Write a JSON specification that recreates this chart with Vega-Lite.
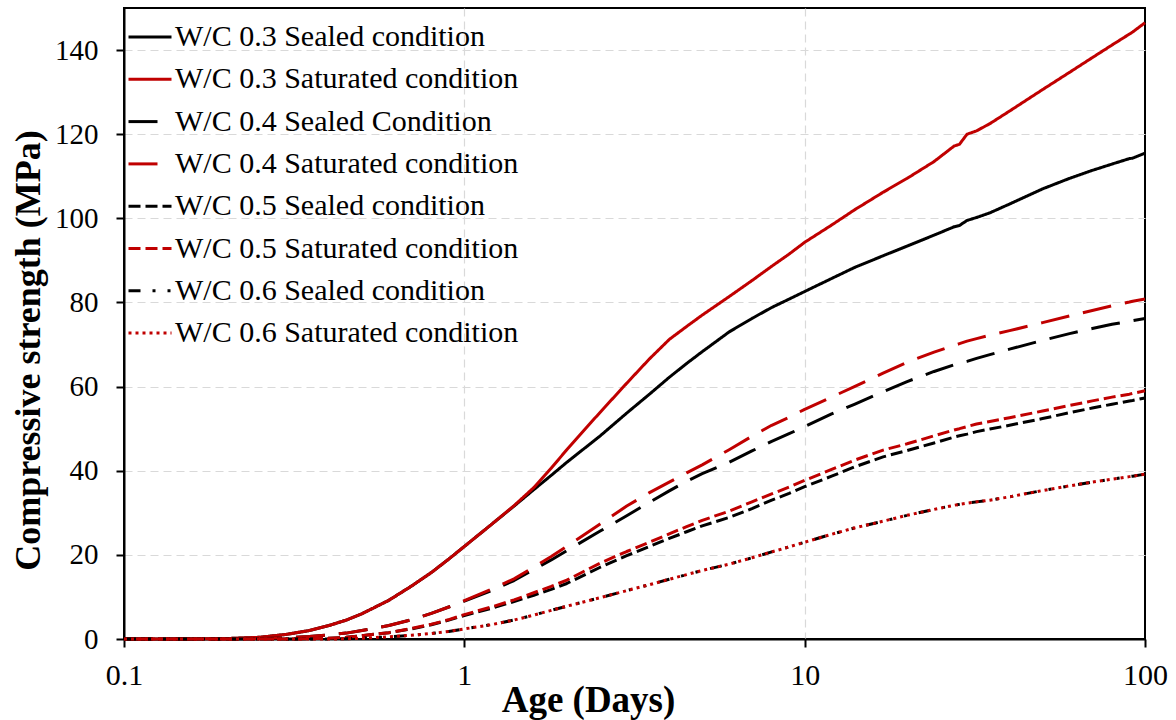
{
  "$schema": "https://vega.github.io/schema/vega-lite/v6.json",
  "width": 1021,
  "height": 631,
  "autosize": {"type": "none"},
  "padding": {"left": 124, "top": 8, "right": 31, "bottom": 81},
  "background": "white",
  "config": {
    "font": "Liberation Serif",
    "view": {"stroke": "black", "strokeWidth": 2},
    "axis": {
      "domainColor": "black",
      "domainWidth": 2,
      "tickColor": "black",
      "tickWidth": 2,
      "tickSize": 8,
      "labelFont": "Liberation Serif",
      "labelColor": "black",
      "titleFont": "Liberation Serif",
      "titleFontWeight": "bold",
      "titleFontSize": 36,
      "titleColor": "black",
      "gridColor": "#D9D9D9",
      "gridWidth": 1.2,
      "gridDash": [8, 5]
    },
    "legend": {
      "labelFont": "Liberation Serif"
    }
  },
  "data": {
    "values": [
      {"series": "W/C 0.3 Sealed condition", "age": 0.1, "strength": 0},
      {"series": "W/C 0.3 Sealed condition", "age": 0.15, "strength": 0},
      {"series": "W/C 0.3 Sealed condition", "age": 0.2, "strength": 0.1},
      {"series": "W/C 0.3 Sealed condition", "age": 0.25, "strength": 0.4},
      {"series": "W/C 0.3 Sealed condition", "age": 0.3, "strength": 1.1},
      {"series": "W/C 0.3 Sealed condition", "age": 0.35, "strength": 2.0},
      {"series": "W/C 0.3 Sealed condition", "age": 0.4, "strength": 3.2},
      {"series": "W/C 0.3 Sealed condition", "age": 0.45, "strength": 4.5},
      {"series": "W/C 0.3 Sealed condition", "age": 0.5, "strength": 6.0},
      {"series": "W/C 0.3 Sealed condition", "age": 0.6, "strength": 9.2},
      {"series": "W/C 0.3 Sealed condition", "age": 0.7, "strength": 12.6},
      {"series": "W/C 0.3 Sealed condition", "age": 0.8, "strength": 15.8},
      {"series": "W/C 0.3 Sealed condition", "age": 0.9, "strength": 19.0},
      {"series": "W/C 0.3 Sealed condition", "age": 1, "strength": 22.0},
      {"series": "W/C 0.3 Sealed condition", "age": 1.2, "strength": 27.2},
      {"series": "W/C 0.3 Sealed condition", "age": 1.4, "strength": 31.6},
      {"series": "W/C 0.3 Sealed condition", "age": 1.6, "strength": 35.5},
      {"series": "W/C 0.3 Sealed condition", "age": 1.8, "strength": 38.9},
      {"series": "W/C 0.3 Sealed condition", "age": 2, "strength": 42.0},
      {"series": "W/C 0.3 Sealed condition", "age": 2.5, "strength": 48.2},
      {"series": "W/C 0.3 Sealed condition", "age": 3, "strength": 53.7},
      {"series": "W/C 0.3 Sealed condition", "age": 3.5, "strength": 58.2},
      {"series": "W/C 0.3 Sealed condition", "age": 4, "strength": 62.2},
      {"series": "W/C 0.3 Sealed condition", "age": 4.5, "strength": 65.5},
      {"series": "W/C 0.3 Sealed condition", "age": 5, "strength": 68.3},
      {"series": "W/C 0.3 Sealed condition", "age": 6, "strength": 73.0},
      {"series": "W/C 0.3 Sealed condition", "age": 7, "strength": 76.2},
      {"series": "W/C 0.3 Sealed condition", "age": 8, "strength": 78.8},
      {"series": "W/C 0.3 Sealed condition", "age": 9, "strength": 80.8},
      {"series": "W/C 0.3 Sealed condition", "age": 10, "strength": 82.6},
      {"series": "W/C 0.3 Sealed condition", "age": 12, "strength": 85.7},
      {"series": "W/C 0.3 Sealed condition", "age": 14, "strength": 88.3},
      {"series": "W/C 0.3 Sealed condition", "age": 17, "strength": 91.1},
      {"series": "W/C 0.3 Sealed condition", "age": 20, "strength": 93.4},
      {"series": "W/C 0.3 Sealed condition", "age": 24, "strength": 96.0},
      {"series": "W/C 0.3 Sealed condition", "age": 27.5, "strength": 98.0},
      {"series": "W/C 0.3 Sealed condition", "age": 28.5, "strength": 98.3},
      {"series": "W/C 0.3 Sealed condition", "age": 30, "strength": 99.5},
      {"series": "W/C 0.3 Sealed condition", "age": 32, "strength": 100.2},
      {"series": "W/C 0.3 Sealed condition", "age": 35, "strength": 101.3},
      {"series": "W/C 0.3 Sealed condition", "age": 40, "strength": 103.4},
      {"series": "W/C 0.3 Sealed condition", "age": 50, "strength": 107.0},
      {"series": "W/C 0.3 Sealed condition", "age": 60, "strength": 109.5},
      {"series": "W/C 0.3 Sealed condition", "age": 70, "strength": 111.4},
      {"series": "W/C 0.3 Sealed condition", "age": 80, "strength": 112.9},
      {"series": "W/C 0.3 Sealed condition", "age": 90, "strength": 114.2},
      {"series": "W/C 0.3 Sealed condition", "age": 92, "strength": 114.3},
      {"series": "W/C 0.3 Sealed condition", "age": 100, "strength": 115.5},

      {"series": "W/C 0.3 Saturated condition", "age": 0.1, "strength": 0},
      {"series": "W/C 0.3 Saturated condition", "age": 0.15, "strength": 0},
      {"series": "W/C 0.3 Saturated condition", "age": 0.2, "strength": 0.1},
      {"series": "W/C 0.3 Saturated condition", "age": 0.25, "strength": 0.4},
      {"series": "W/C 0.3 Saturated condition", "age": 0.3, "strength": 1.1},
      {"series": "W/C 0.3 Saturated condition", "age": 0.35, "strength": 2.0},
      {"series": "W/C 0.3 Saturated condition", "age": 0.4, "strength": 3.2},
      {"series": "W/C 0.3 Saturated condition", "age": 0.45, "strength": 4.5},
      {"series": "W/C 0.3 Saturated condition", "age": 0.5, "strength": 6.0},
      {"series": "W/C 0.3 Saturated condition", "age": 0.6, "strength": 9.2},
      {"series": "W/C 0.3 Saturated condition", "age": 0.7, "strength": 12.6},
      {"series": "W/C 0.3 Saturated condition", "age": 0.8, "strength": 15.8},
      {"series": "W/C 0.3 Saturated condition", "age": 0.9, "strength": 19.0},
      {"series": "W/C 0.3 Saturated condition", "age": 1, "strength": 22.0},
      {"series": "W/C 0.3 Saturated condition", "age": 1.2, "strength": 27.2},
      {"series": "W/C 0.3 Saturated condition", "age": 1.4, "strength": 31.7},
      {"series": "W/C 0.3 Saturated condition", "age": 1.6, "strength": 36.0},
      {"series": "W/C 0.3 Saturated condition", "age": 1.8, "strength": 40.6},
      {"series": "W/C 0.3 Saturated condition", "age": 2, "strength": 45.0},
      {"series": "W/C 0.3 Saturated condition", "age": 2.5, "strength": 53.8},
      {"series": "W/C 0.3 Saturated condition", "age": 3, "strength": 60.8},
      {"series": "W/C 0.3 Saturated condition", "age": 3.5, "strength": 66.6},
      {"series": "W/C 0.3 Saturated condition", "age": 4, "strength": 71.2},
      {"series": "W/C 0.3 Saturated condition", "age": 4.5, "strength": 74.3},
      {"series": "W/C 0.3 Saturated condition", "age": 5, "strength": 77.0},
      {"series": "W/C 0.3 Saturated condition", "age": 6, "strength": 81.4},
      {"series": "W/C 0.3 Saturated condition", "age": 7, "strength": 85.2},
      {"series": "W/C 0.3 Saturated condition", "age": 8, "strength": 88.6},
      {"series": "W/C 0.3 Saturated condition", "age": 9, "strength": 91.5},
      {"series": "W/C 0.3 Saturated condition", "age": 10, "strength": 94.3},
      {"series": "W/C 0.3 Saturated condition", "age": 12, "strength": 98.4},
      {"series": "W/C 0.3 Saturated condition", "age": 14, "strength": 102.0},
      {"series": "W/C 0.3 Saturated condition", "age": 17, "strength": 106.2},
      {"series": "W/C 0.3 Saturated condition", "age": 20, "strength": 109.5},
      {"series": "W/C 0.3 Saturated condition", "age": 24, "strength": 113.5},
      {"series": "W/C 0.3 Saturated condition", "age": 27.5, "strength": 117.2},
      {"series": "W/C 0.3 Saturated condition", "age": 28.5, "strength": 117.6},
      {"series": "W/C 0.3 Saturated condition", "age": 30, "strength": 120.0},
      {"series": "W/C 0.3 Saturated condition", "age": 32, "strength": 120.8},
      {"series": "W/C 0.3 Saturated condition", "age": 35, "strength": 122.5},
      {"series": "W/C 0.3 Saturated condition", "age": 40, "strength": 125.5},
      {"series": "W/C 0.3 Saturated condition", "age": 50, "strength": 130.6},
      {"series": "W/C 0.3 Saturated condition", "age": 60, "strength": 134.7},
      {"series": "W/C 0.3 Saturated condition", "age": 70, "strength": 138.2},
      {"series": "W/C 0.3 Saturated condition", "age": 80, "strength": 141.2},
      {"series": "W/C 0.3 Saturated condition", "age": 90, "strength": 143.8},
      {"series": "W/C 0.3 Saturated condition", "age": 92, "strength": 144.3},
      {"series": "W/C 0.3 Saturated condition", "age": 100, "strength": 146.5},

      {"series": "W/C 0.4 Sealed Condition", "age": 0.1, "strength": 0},
      {"series": "W/C 0.4 Sealed Condition", "age": 0.15, "strength": 0},
      {"series": "W/C 0.4 Sealed Condition", "age": 0.2, "strength": 0},
      {"series": "W/C 0.4 Sealed Condition", "age": 0.25, "strength": 0.1},
      {"series": "W/C 0.4 Sealed Condition", "age": 0.3, "strength": 0.3},
      {"series": "W/C 0.4 Sealed Condition", "age": 0.35, "strength": 0.6},
      {"series": "W/C 0.4 Sealed Condition", "age": 0.4, "strength": 1.0},
      {"series": "W/C 0.4 Sealed Condition", "age": 0.45, "strength": 1.4},
      {"series": "W/C 0.4 Sealed Condition", "age": 0.5, "strength": 2.0},
      {"series": "W/C 0.4 Sealed Condition", "age": 0.6, "strength": 3.2},
      {"series": "W/C 0.4 Sealed Condition", "age": 0.7, "strength": 4.6},
      {"series": "W/C 0.4 Sealed Condition", "age": 0.8, "strength": 6.1},
      {"series": "W/C 0.4 Sealed Condition", "age": 0.9, "strength": 7.6},
      {"series": "W/C 0.4 Sealed Condition", "age": 1, "strength": 9.0},
      {"series": "W/C 0.4 Sealed Condition", "age": 1.2, "strength": 11.5},
      {"series": "W/C 0.4 Sealed Condition", "age": 1.4, "strength": 13.9},
      {"series": "W/C 0.4 Sealed Condition", "age": 1.6, "strength": 16.5},
      {"series": "W/C 0.4 Sealed Condition", "age": 1.8, "strength": 18.8},
      {"series": "W/C 0.4 Sealed Condition", "age": 2, "strength": 21.0},
      {"series": "W/C 0.4 Sealed Condition", "age": 2.5, "strength": 25.6},
      {"series": "W/C 0.4 Sealed Condition", "age": 3, "strength": 29.3},
      {"series": "W/C 0.4 Sealed Condition", "age": 3.5, "strength": 32.5},
      {"series": "W/C 0.4 Sealed Condition", "age": 4, "strength": 35.2},
      {"series": "W/C 0.4 Sealed Condition", "age": 4.5, "strength": 37.5},
      {"series": "W/C 0.4 Sealed Condition", "age": 5, "strength": 39.3},
      {"series": "W/C 0.4 Sealed Condition", "age": 6, "strength": 42.0},
      {"series": "W/C 0.4 Sealed Condition", "age": 7, "strength": 44.7},
      {"series": "W/C 0.4 Sealed Condition", "age": 8, "strength": 47.0},
      {"series": "W/C 0.4 Sealed Condition", "age": 9, "strength": 48.8},
      {"series": "W/C 0.4 Sealed Condition", "age": 10, "strength": 50.5},
      {"series": "W/C 0.4 Sealed Condition", "age": 12, "strength": 53.5},
      {"series": "W/C 0.4 Sealed Condition", "age": 14, "strength": 55.8},
      {"series": "W/C 0.4 Sealed Condition", "age": 17, "strength": 58.8},
      {"series": "W/C 0.4 Sealed Condition", "age": 20, "strength": 61.2},
      {"series": "W/C 0.4 Sealed Condition", "age": 24, "strength": 63.6},
      {"series": "W/C 0.4 Sealed Condition", "age": 27.5, "strength": 65.2},
      {"series": "W/C 0.4 Sealed Condition", "age": 28.5, "strength": 65.6},
      {"series": "W/C 0.4 Sealed Condition", "age": 30, "strength": 66.0},
      {"series": "W/C 0.4 Sealed Condition", "age": 32, "strength": 66.7},
      {"series": "W/C 0.4 Sealed Condition", "age": 35, "strength": 67.6},
      {"series": "W/C 0.4 Sealed Condition", "age": 40, "strength": 68.9},
      {"series": "W/C 0.4 Sealed Condition", "age": 50, "strength": 71.0},
      {"series": "W/C 0.4 Sealed Condition", "age": 60, "strength": 72.6},
      {"series": "W/C 0.4 Sealed Condition", "age": 70, "strength": 73.8},
      {"series": "W/C 0.4 Sealed Condition", "age": 80, "strength": 74.8},
      {"series": "W/C 0.4 Sealed Condition", "age": 90, "strength": 75.5},
      {"series": "W/C 0.4 Sealed Condition", "age": 92, "strength": 75.7},
      {"series": "W/C 0.4 Sealed Condition", "age": 100, "strength": 76.2},

      {"series": "W/C 0.4 Saturated condition", "age": 0.1, "strength": 0},
      {"series": "W/C 0.4 Saturated condition", "age": 0.15, "strength": 0},
      {"series": "W/C 0.4 Saturated condition", "age": 0.2, "strength": 0},
      {"series": "W/C 0.4 Saturated condition", "age": 0.25, "strength": 0.1},
      {"series": "W/C 0.4 Saturated condition", "age": 0.3, "strength": 0.3},
      {"series": "W/C 0.4 Saturated condition", "age": 0.35, "strength": 0.6},
      {"series": "W/C 0.4 Saturated condition", "age": 0.4, "strength": 1.0},
      {"series": "W/C 0.4 Saturated condition", "age": 0.45, "strength": 1.4},
      {"series": "W/C 0.4 Saturated condition", "age": 0.5, "strength": 2.0},
      {"series": "W/C 0.4 Saturated condition", "age": 0.6, "strength": 3.2},
      {"series": "W/C 0.4 Saturated condition", "age": 0.7, "strength": 4.6},
      {"series": "W/C 0.4 Saturated condition", "age": 0.8, "strength": 6.1},
      {"series": "W/C 0.4 Saturated condition", "age": 0.9, "strength": 7.6},
      {"series": "W/C 0.4 Saturated condition", "age": 1, "strength": 9.1},
      {"series": "W/C 0.4 Saturated condition", "age": 1.2, "strength": 11.8},
      {"series": "W/C 0.4 Saturated condition", "age": 1.4, "strength": 14.3},
      {"series": "W/C 0.4 Saturated condition", "age": 1.6, "strength": 17.1},
      {"series": "W/C 0.4 Saturated condition", "age": 1.8, "strength": 19.6},
      {"series": "W/C 0.4 Saturated condition", "age": 2, "strength": 22.0},
      {"series": "W/C 0.4 Saturated condition", "age": 2.5, "strength": 27.3},
      {"series": "W/C 0.4 Saturated condition", "age": 3, "strength": 31.6},
      {"series": "W/C 0.4 Saturated condition", "age": 3.5, "strength": 34.8},
      {"series": "W/C 0.4 Saturated condition", "age": 4, "strength": 37.3},
      {"series": "W/C 0.4 Saturated condition", "age": 4.5, "strength": 39.5},
      {"series": "W/C 0.4 Saturated condition", "age": 5, "strength": 41.4},
      {"series": "W/C 0.4 Saturated condition", "age": 6, "strength": 45.0},
      {"series": "W/C 0.4 Saturated condition", "age": 7, "strength": 48.2},
      {"series": "W/C 0.4 Saturated condition", "age": 8, "strength": 50.8},
      {"series": "W/C 0.4 Saturated condition", "age": 9, "strength": 52.7},
      {"series": "W/C 0.4 Saturated condition", "age": 10, "strength": 54.6},
      {"series": "W/C 0.4 Saturated condition", "age": 12, "strength": 57.5},
      {"series": "W/C 0.4 Saturated condition", "age": 14, "strength": 60.0},
      {"series": "W/C 0.4 Saturated condition", "age": 17, "strength": 63.2},
      {"series": "W/C 0.4 Saturated condition", "age": 20, "strength": 65.8},
      {"series": "W/C 0.4 Saturated condition", "age": 24, "strength": 68.2},
      {"series": "W/C 0.4 Saturated condition", "age": 27.5, "strength": 69.8},
      {"series": "W/C 0.4 Saturated condition", "age": 28.5, "strength": 70.2},
      {"series": "W/C 0.4 Saturated condition", "age": 30, "strength": 70.8},
      {"series": "W/C 0.4 Saturated condition", "age": 32, "strength": 71.4},
      {"series": "W/C 0.4 Saturated condition", "age": 35, "strength": 72.2},
      {"series": "W/C 0.4 Saturated condition", "age": 40, "strength": 73.3},
      {"series": "W/C 0.4 Saturated condition", "age": 50, "strength": 75.2},
      {"series": "W/C 0.4 Saturated condition", "age": 60, "strength": 76.8},
      {"series": "W/C 0.4 Saturated condition", "age": 70, "strength": 78.1},
      {"series": "W/C 0.4 Saturated condition", "age": 80, "strength": 79.2},
      {"series": "W/C 0.4 Saturated condition", "age": 90, "strength": 80.1},
      {"series": "W/C 0.4 Saturated condition", "age": 92, "strength": 80.3},
      {"series": "W/C 0.4 Saturated condition", "age": 100, "strength": 80.8},

      {"series": "W/C 0.5 Sealed condition", "age": 0.1, "strength": 0},
      {"series": "W/C 0.5 Sealed condition", "age": 0.15, "strength": 0},
      {"series": "W/C 0.5 Sealed condition", "age": 0.2, "strength": 0},
      {"series": "W/C 0.5 Sealed condition", "age": 0.25, "strength": 0},
      {"series": "W/C 0.5 Sealed condition", "age": 0.3, "strength": 0},
      {"series": "W/C 0.5 Sealed condition", "age": 0.35, "strength": 0.05},
      {"series": "W/C 0.5 Sealed condition", "age": 0.4, "strength": 0.2},
      {"series": "W/C 0.5 Sealed condition", "age": 0.45, "strength": 0.4},
      {"series": "W/C 0.5 Sealed condition", "age": 0.5, "strength": 0.8},
      {"series": "W/C 0.5 Sealed condition", "age": 0.6, "strength": 1.5},
      {"series": "W/C 0.5 Sealed condition", "age": 0.7, "strength": 2.4},
      {"series": "W/C 0.5 Sealed condition", "age": 0.8, "strength": 3.4},
      {"series": "W/C 0.5 Sealed condition", "age": 0.9, "strength": 4.5},
      {"series": "W/C 0.5 Sealed condition", "age": 1, "strength": 5.6},
      {"series": "W/C 0.5 Sealed condition", "age": 1.2, "strength": 7.3},
      {"series": "W/C 0.5 Sealed condition", "age": 1.4, "strength": 8.9},
      {"series": "W/C 0.5 Sealed condition", "age": 1.6, "strength": 10.4},
      {"series": "W/C 0.5 Sealed condition", "age": 1.8, "strength": 11.8},
      {"series": "W/C 0.5 Sealed condition", "age": 2, "strength": 13.2},
      {"series": "W/C 0.5 Sealed condition", "age": 2.5, "strength": 17.0},
      {"series": "W/C 0.5 Sealed condition", "age": 3, "strength": 19.8},
      {"series": "W/C 0.5 Sealed condition", "age": 3.5, "strength": 22.0},
      {"series": "W/C 0.5 Sealed condition", "age": 4, "strength": 23.9},
      {"series": "W/C 0.5 Sealed condition", "age": 4.5, "strength": 25.5},
      {"series": "W/C 0.5 Sealed condition", "age": 5, "strength": 26.9},
      {"series": "W/C 0.5 Sealed condition", "age": 6, "strength": 28.9},
      {"series": "W/C 0.5 Sealed condition", "age": 7, "strength": 31.0},
      {"series": "W/C 0.5 Sealed condition", "age": 8, "strength": 33.0},
      {"series": "W/C 0.5 Sealed condition", "age": 9, "strength": 34.6},
      {"series": "W/C 0.5 Sealed condition", "age": 10, "strength": 36.2},
      {"series": "W/C 0.5 Sealed condition", "age": 12, "strength": 38.7},
      {"series": "W/C 0.5 Sealed condition", "age": 14, "strength": 40.9},
      {"series": "W/C 0.5 Sealed condition", "age": 17, "strength": 43.3},
      {"series": "W/C 0.5 Sealed condition", "age": 20, "strength": 44.8},
      {"series": "W/C 0.5 Sealed condition", "age": 24, "strength": 46.6},
      {"series": "W/C 0.5 Sealed condition", "age": 27.5, "strength": 48.0},
      {"series": "W/C 0.5 Sealed condition", "age": 28.5, "strength": 48.3},
      {"series": "W/C 0.5 Sealed condition", "age": 30, "strength": 48.7},
      {"series": "W/C 0.5 Sealed condition", "age": 32, "strength": 49.3},
      {"series": "W/C 0.5 Sealed condition", "age": 35, "strength": 49.9},
      {"series": "W/C 0.5 Sealed condition", "age": 40, "strength": 50.8},
      {"series": "W/C 0.5 Sealed condition", "age": 50, "strength": 52.4},
      {"series": "W/C 0.5 Sealed condition", "age": 60, "strength": 53.8},
      {"series": "W/C 0.5 Sealed condition", "age": 70, "strength": 54.9},
      {"series": "W/C 0.5 Sealed condition", "age": 80, "strength": 55.8},
      {"series": "W/C 0.5 Sealed condition", "age": 90, "strength": 56.6},
      {"series": "W/C 0.5 Sealed condition", "age": 92, "strength": 56.7},
      {"series": "W/C 0.5 Sealed condition", "age": 100, "strength": 57.3},

      {"series": "W/C 0.5 Saturated condition", "age": 0.1, "strength": 0},
      {"series": "W/C 0.5 Saturated condition", "age": 0.15, "strength": 0},
      {"series": "W/C 0.5 Saturated condition", "age": 0.2, "strength": 0},
      {"series": "W/C 0.5 Saturated condition", "age": 0.25, "strength": 0},
      {"series": "W/C 0.5 Saturated condition", "age": 0.3, "strength": 0},
      {"series": "W/C 0.5 Saturated condition", "age": 0.35, "strength": 0.05},
      {"series": "W/C 0.5 Saturated condition", "age": 0.4, "strength": 0.2},
      {"series": "W/C 0.5 Saturated condition", "age": 0.45, "strength": 0.4},
      {"series": "W/C 0.5 Saturated condition", "age": 0.5, "strength": 0.8},
      {"series": "W/C 0.5 Saturated condition", "age": 0.6, "strength": 1.5},
      {"series": "W/C 0.5 Saturated condition", "age": 0.7, "strength": 2.5},
      {"series": "W/C 0.5 Saturated condition", "age": 0.8, "strength": 3.5},
      {"series": "W/C 0.5 Saturated condition", "age": 0.9, "strength": 4.6},
      {"series": "W/C 0.5 Saturated condition", "age": 1, "strength": 5.8},
      {"series": "W/C 0.5 Saturated condition", "age": 1.2, "strength": 7.6},
      {"series": "W/C 0.5 Saturated condition", "age": 1.4, "strength": 9.3},
      {"series": "W/C 0.5 Saturated condition", "age": 1.6, "strength": 11.0},
      {"series": "W/C 0.5 Saturated condition", "age": 1.8, "strength": 12.5},
      {"series": "W/C 0.5 Saturated condition", "age": 2, "strength": 14.0},
      {"series": "W/C 0.5 Saturated condition", "age": 2.5, "strength": 18.0},
      {"series": "W/C 0.5 Saturated condition", "age": 3, "strength": 20.8},
      {"series": "W/C 0.5 Saturated condition", "age": 3.5, "strength": 23.0},
      {"series": "W/C 0.5 Saturated condition", "age": 4, "strength": 25.0},
      {"series": "W/C 0.5 Saturated condition", "age": 4.5, "strength": 26.7},
      {"series": "W/C 0.5 Saturated condition", "age": 5, "strength": 28.2},
      {"series": "W/C 0.5 Saturated condition", "age": 6, "strength": 30.4},
      {"series": "W/C 0.5 Saturated condition", "age": 7, "strength": 32.6},
      {"series": "W/C 0.5 Saturated condition", "age": 8, "strength": 34.5},
      {"series": "W/C 0.5 Saturated condition", "age": 9, "strength": 36.1},
      {"series": "W/C 0.5 Saturated condition", "age": 10, "strength": 37.7},
      {"series": "W/C 0.5 Saturated condition", "age": 12, "strength": 40.3},
      {"series": "W/C 0.5 Saturated condition", "age": 14, "strength": 42.5},
      {"series": "W/C 0.5 Saturated condition", "age": 17, "strength": 44.9},
      {"series": "W/C 0.5 Saturated condition", "age": 20, "strength": 46.4},
      {"series": "W/C 0.5 Saturated condition", "age": 24, "strength": 48.3},
      {"series": "W/C 0.5 Saturated condition", "age": 27.5, "strength": 49.7},
      {"series": "W/C 0.5 Saturated condition", "age": 28.5, "strength": 50.0},
      {"series": "W/C 0.5 Saturated condition", "age": 30, "strength": 50.5},
      {"series": "W/C 0.5 Saturated condition", "age": 32, "strength": 51.1},
      {"series": "W/C 0.5 Saturated condition", "age": 35, "strength": 51.7},
      {"series": "W/C 0.5 Saturated condition", "age": 40, "strength": 52.6},
      {"series": "W/C 0.5 Saturated condition", "age": 50, "strength": 54.2},
      {"series": "W/C 0.5 Saturated condition", "age": 60, "strength": 55.5},
      {"series": "W/C 0.5 Saturated condition", "age": 70, "strength": 56.6},
      {"series": "W/C 0.5 Saturated condition", "age": 80, "strength": 57.5},
      {"series": "W/C 0.5 Saturated condition", "age": 90, "strength": 58.2},
      {"series": "W/C 0.5 Saturated condition", "age": 92, "strength": 58.4},
      {"series": "W/C 0.5 Saturated condition", "age": 100, "strength": 59.0},

      {"series": "W/C 0.6 Sealed condition", "age": 0.1, "strength": 0},
      {"series": "W/C 0.6 Sealed condition", "age": 0.15, "strength": 0},
      {"series": "W/C 0.6 Sealed condition", "age": 0.2, "strength": 0},
      {"series": "W/C 0.6 Sealed condition", "age": 0.25, "strength": 0},
      {"series": "W/C 0.6 Sealed condition", "age": 0.3, "strength": 0},
      {"series": "W/C 0.6 Sealed condition", "age": 0.35, "strength": 0},
      {"series": "W/C 0.6 Sealed condition", "age": 0.4, "strength": 0},
      {"series": "W/C 0.6 Sealed condition", "age": 0.45, "strength": 0.05},
      {"series": "W/C 0.6 Sealed condition", "age": 0.5, "strength": 0.2},
      {"series": "W/C 0.6 Sealed condition", "age": 0.6, "strength": 0.5},
      {"series": "W/C 0.6 Sealed condition", "age": 0.7, "strength": 0.9},
      {"series": "W/C 0.6 Sealed condition", "age": 0.8, "strength": 1.3},
      {"series": "W/C 0.6 Sealed condition", "age": 0.9, "strength": 1.8},
      {"series": "W/C 0.6 Sealed condition", "age": 1, "strength": 2.4},
      {"series": "W/C 0.6 Sealed condition", "age": 1.2, "strength": 3.4},
      {"series": "W/C 0.6 Sealed condition", "age": 1.4, "strength": 4.5},
      {"series": "W/C 0.6 Sealed condition", "age": 1.6, "strength": 5.7},
      {"series": "W/C 0.6 Sealed condition", "age": 1.8, "strength": 6.8},
      {"series": "W/C 0.6 Sealed condition", "age": 2, "strength": 7.8},
      {"series": "W/C 0.6 Sealed condition", "age": 2.5, "strength": 9.8},
      {"series": "W/C 0.6 Sealed condition", "age": 3, "strength": 11.5},
      {"series": "W/C 0.6 Sealed condition", "age": 3.5, "strength": 12.9},
      {"series": "W/C 0.6 Sealed condition", "age": 4, "strength": 14.2},
      {"series": "W/C 0.6 Sealed condition", "age": 4.5, "strength": 15.3},
      {"series": "W/C 0.6 Sealed condition", "age": 5, "strength": 16.3},
      {"series": "W/C 0.6 Sealed condition", "age": 6, "strength": 17.8},
      {"series": "W/C 0.6 Sealed condition", "age": 7, "strength": 19.3},
      {"series": "W/C 0.6 Sealed condition", "age": 8, "strength": 20.7},
      {"series": "W/C 0.6 Sealed condition", "age": 9, "strength": 21.9},
      {"series": "W/C 0.6 Sealed condition", "age": 10, "strength": 23.0},
      {"series": "W/C 0.6 Sealed condition", "age": 12, "strength": 24.9},
      {"series": "W/C 0.6 Sealed condition", "age": 14, "strength": 26.4},
      {"series": "W/C 0.6 Sealed condition", "age": 17, "strength": 28.0},
      {"series": "W/C 0.6 Sealed condition", "age": 20, "strength": 29.4},
      {"series": "W/C 0.6 Sealed condition", "age": 24, "strength": 30.8},
      {"series": "W/C 0.6 Sealed condition", "age": 27.5, "strength": 31.8},
      {"series": "W/C 0.6 Sealed condition", "age": 28.5, "strength": 32.0},
      {"series": "W/C 0.6 Sealed condition", "age": 30, "strength": 32.3},
      {"series": "W/C 0.6 Sealed condition", "age": 32, "strength": 32.6},
      {"series": "W/C 0.6 Sealed condition", "age": 35, "strength": 33.0},
      {"series": "W/C 0.6 Sealed condition", "age": 40, "strength": 33.8},
      {"series": "W/C 0.6 Sealed condition", "age": 50, "strength": 35.3},
      {"series": "W/C 0.6 Sealed condition", "age": 60, "strength": 36.4},
      {"series": "W/C 0.6 Sealed condition", "age": 70, "strength": 37.3},
      {"series": "W/C 0.6 Sealed condition", "age": 80, "strength": 38.0},
      {"series": "W/C 0.6 Sealed condition", "age": 90, "strength": 38.6},
      {"series": "W/C 0.6 Sealed condition", "age": 92, "strength": 38.7},
      {"series": "W/C 0.6 Sealed condition", "age": 100, "strength": 39.2},

      {"series": "W/C 0.6 Saturated condition", "age": 0.1, "strength": 0},
      {"series": "W/C 0.6 Saturated condition", "age": 0.15, "strength": 0},
      {"series": "W/C 0.6 Saturated condition", "age": 0.2, "strength": 0},
      {"series": "W/C 0.6 Saturated condition", "age": 0.25, "strength": 0},
      {"series": "W/C 0.6 Saturated condition", "age": 0.3, "strength": 0},
      {"series": "W/C 0.6 Saturated condition", "age": 0.35, "strength": 0},
      {"series": "W/C 0.6 Saturated condition", "age": 0.4, "strength": 0},
      {"series": "W/C 0.6 Saturated condition", "age": 0.45, "strength": 0.05},
      {"series": "W/C 0.6 Saturated condition", "age": 0.5, "strength": 0.2},
      {"series": "W/C 0.6 Saturated condition", "age": 0.6, "strength": 0.5},
      {"series": "W/C 0.6 Saturated condition", "age": 0.7, "strength": 0.9},
      {"series": "W/C 0.6 Saturated condition", "age": 0.8, "strength": 1.3},
      {"series": "W/C 0.6 Saturated condition", "age": 0.9, "strength": 1.8},
      {"series": "W/C 0.6 Saturated condition", "age": 1, "strength": 2.4},
      {"series": "W/C 0.6 Saturated condition", "age": 1.2, "strength": 3.4},
      {"series": "W/C 0.6 Saturated condition", "age": 1.4, "strength": 4.5},
      {"series": "W/C 0.6 Saturated condition", "age": 1.6, "strength": 5.7},
      {"series": "W/C 0.6 Saturated condition", "age": 1.8, "strength": 6.8},
      {"series": "W/C 0.6 Saturated condition", "age": 2, "strength": 7.8},
      {"series": "W/C 0.6 Saturated condition", "age": 2.5, "strength": 9.8},
      {"series": "W/C 0.6 Saturated condition", "age": 3, "strength": 11.5},
      {"series": "W/C 0.6 Saturated condition", "age": 3.5, "strength": 12.9},
      {"series": "W/C 0.6 Saturated condition", "age": 4, "strength": 14.2},
      {"series": "W/C 0.6 Saturated condition", "age": 4.5, "strength": 15.3},
      {"series": "W/C 0.6 Saturated condition", "age": 5, "strength": 16.3},
      {"series": "W/C 0.6 Saturated condition", "age": 6, "strength": 17.8},
      {"series": "W/C 0.6 Saturated condition", "age": 7, "strength": 19.3},
      {"series": "W/C 0.6 Saturated condition", "age": 8, "strength": 20.7},
      {"series": "W/C 0.6 Saturated condition", "age": 9, "strength": 21.9},
      {"series": "W/C 0.6 Saturated condition", "age": 10, "strength": 23.0},
      {"series": "W/C 0.6 Saturated condition", "age": 12, "strength": 24.9},
      {"series": "W/C 0.6 Saturated condition", "age": 14, "strength": 26.4},
      {"series": "W/C 0.6 Saturated condition", "age": 17, "strength": 28.0},
      {"series": "W/C 0.6 Saturated condition", "age": 20, "strength": 29.4},
      {"series": "W/C 0.6 Saturated condition", "age": 24, "strength": 30.8},
      {"series": "W/C 0.6 Saturated condition", "age": 27.5, "strength": 31.8},
      {"series": "W/C 0.6 Saturated condition", "age": 28.5, "strength": 32.0},
      {"series": "W/C 0.6 Saturated condition", "age": 30, "strength": 32.3},
      {"series": "W/C 0.6 Saturated condition", "age": 32, "strength": 32.6},
      {"series": "W/C 0.6 Saturated condition", "age": 35, "strength": 33.0},
      {"series": "W/C 0.6 Saturated condition", "age": 40, "strength": 33.8},
      {"series": "W/C 0.6 Saturated condition", "age": 50, "strength": 35.3},
      {"series": "W/C 0.6 Saturated condition", "age": 60, "strength": 36.4},
      {"series": "W/C 0.6 Saturated condition", "age": 70, "strength": 37.3},
      {"series": "W/C 0.6 Saturated condition", "age": 80, "strength": 38.0},
      {"series": "W/C 0.6 Saturated condition", "age": 90, "strength": 38.6},
      {"series": "W/C 0.6 Saturated condition", "age": 92, "strength": 38.7},
      {"series": "W/C 0.6 Saturated condition", "age": 100, "strength": 39.2}
    ]
  },
  "mark": {"type": "line", "strokeWidth": 3, "strokeCap": "butt", "strokeJoin": "round"},
  "encoding": {
    "x": {
      "field": "age",
      "type": "quantitative",
      "scale": {"type": "log", "domain": [0.1, 100]},
      "axis": {
        "title": "Age (Days)",
        "values": [0.1, 1, 10, 100],
        "format": "~g",
        "labelFont": "Liberation Serif",
        "labelFontSize": 30,
        "labelBaseline": "alphabetic",
        "labelPadding": 37,
        "labelFlush": false,
        "labelOverlap": false,
        "gridOpacity": {"condition": {"test": "datum.value <= 0.1 || datum.value >= 100", "value": 0}, "value": 1},
        "titleFont": "Liberation Serif",
        "titleFontSize": 37,
        "titleX": 464,
        "titleY": 72,
        "titleBaseline": "alphabetic",
        "titleAlign": "center"
      }
    },
    "y": {
      "field": "strength",
      "type": "quantitative",
      "scale": {"domain": [0, 150], "nice": false},
      "axis": {
        "title": "Compressive strength (MPa)",
        "values": [0, 20, 40, 60, 80, 100, 120, 140],
        "labelFont": "Liberation Serif",
        "labelFontSize": 29,
        "labelPadding": 18,
        "labelFlush": false,
        "gridOpacity": {"condition": {"test": "datum.value <= 0", "value": 0}, "value": 1},
        "titleFont": "Liberation Serif",
        "titleAngle": -90,
        "titleX": -96,
        "titleY": 342,
        "titleAlign": "center",
        "titleBaseline": "middle"
      }
    },
    "color": {
      "field": "series",
      "type": "nominal",
      "scale": {
        "domain": [
          "W/C 0.3 Sealed condition", "W/C 0.3 Saturated condition",
          "W/C 0.4 Sealed Condition", "W/C 0.4 Saturated condition",
          "W/C 0.5 Sealed condition", "W/C 0.5 Saturated condition",
          "W/C 0.6 Sealed condition", "W/C 0.6 Saturated condition"
        ],
        "range": ["#000000", "#C00000", "#000000", "#C00000", "#000000", "#C00000", "#000000", "#C00000"]
      },
      "legend": {
        "title": null,
        "orient": "none",
        "legendX": 3,
        "legendY": 6,
        "symbolType": "stroke",
        "symbolSize": 1849,
        "symbolStrokeWidth": 3,
        "labelFont": "Liberation Serif",
        "labelFontSize": 30,
        "labelColor": "black",
        "labelLimit": 0,
        "labelOffset": 2,
        "rowPadding": 4.3,
        "padding": 0
      }
    },
    "strokeDash": {
      "field": "series",
      "type": "nominal",
      "scale": {
        "domain": [
          "W/C 0.3 Sealed condition", "W/C 0.3 Saturated condition",
          "W/C 0.4 Sealed Condition", "W/C 0.4 Saturated condition",
          "W/C 0.5 Sealed condition", "W/C 0.5 Saturated condition",
          "W/C 0.6 Sealed condition", "W/C 0.6 Saturated condition"
        ],
        "range": [[1, 0], [1, 0], [29, 14], [29, 14], [12, 5], [12, 5], [12, 12, 3, 12, 3, 12], [3, 4]]
      },
      "legend": {
        "title": null,
        "orient": "none",
        "legendX": 3,
        "legendY": 6,
        "symbolType": "stroke",
        "symbolSize": 1849,
        "symbolStrokeWidth": 3,
        "labelFont": "Liberation Serif",
        "labelFontSize": 30,
        "labelColor": "black",
        "labelLimit": 0,
        "labelOffset": 2,
        "rowPadding": 4.3,
        "padding": 0
      }
    }
  }
}
